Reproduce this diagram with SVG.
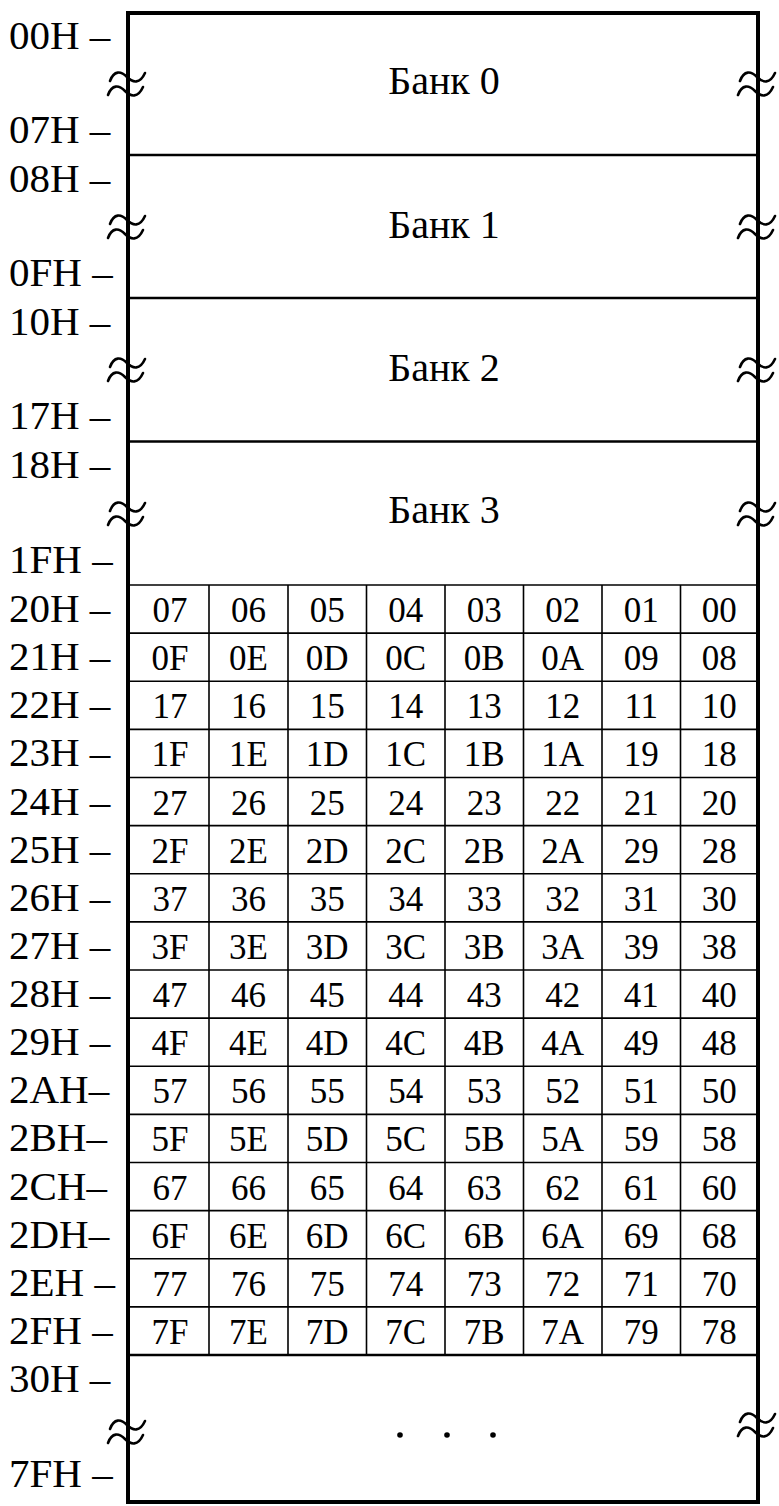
<svg xmlns="http://www.w3.org/2000/svg" width="779" height="1506" viewBox="0 0 779 1506">
  <style>
    text { font-family: "Liberation Serif", "Times New Roman", serif; fill: #000; }
    .lbl { font-size: 41px; }
    .bank { font-size: 40px; text-anchor: middle; }
    .cell { font-size: 35px; text-anchor: middle; }
    .frame { fill: none; stroke: #000; stroke-width: 4; }
    .div { stroke: #000; stroke-width: 2.6; }
    .grid { stroke: #000; stroke-width: 1.6; }
    .brk { fill: none; stroke: #000; stroke-width: 2.6; stroke-linecap: round; }
  </style>
  <defs>
    <!-- double wave break mark, centred on a vertical border -->
    <g id="brk">
      <path class="brk" d="M-18,-3 C-14,-14 -7,-13 -1,-7 C5,-1 12,0 17,-11"/>
      <path class="brk" d="M-20,11 C-16,0 -9,1 -3,7 C3,13 10,14 15,3"/>
    </g>
  </defs>
  <rect width="779" height="1506" fill="#fff"/>

  <!-- register banks -->
  <g id="bank0">
    <text class="lbl" x="9" y="49">00H –</text>
    <text class="lbl" x="9" y="143">07H –</text>
    <text class="bank" x="444" y="94">Банк 0</text>
  </g>
  <g id="bank1">
    <line class="div" x1="128" y1="155" x2="758" y2="155"/>
    <text class="lbl" x="9" y="192">08H –</text>
    <text class="lbl" x="9" y="286">0FH –</text>
    <text class="bank" x="444" y="238">Банк 1</text>
  </g>
  <g id="bank2">
    <line class="div" x1="128" y1="298" x2="758" y2="298"/>
    <text class="lbl" x="9" y="335">10H –</text>
    <text class="lbl" x="9" y="429">17H –</text>
    <text class="bank" x="444" y="381">Банк 2</text>
  </g>
  <g id="bank3">
    <line class="div" x1="128" y1="441.5" x2="758" y2="441.5"/>
    <text class="lbl" x="9" y="478">18H –</text>
    <text class="lbl" x="9" y="573">1FH –</text>
    <text class="bank" x="444" y="523">Банк 3</text>
  </g>

  <!-- bit-addressable area 20H..2FH -->
  <g id="bitgrid">
    <g id="grid-lines">
      <line class="grid" x1="128" y1="585" x2="758" y2="585"/>
      <line class="grid" x1="128" y1="633.1" x2="758" y2="633.1"/>
      <line class="grid" x1="128" y1="681.25" x2="758" y2="681.25"/>
      <line class="grid" x1="128" y1="729.4" x2="758" y2="729.4"/>
      <line class="grid" x1="128" y1="777.5" x2="758" y2="777.5"/>
      <line class="grid" x1="128" y1="825.6" x2="758" y2="825.6"/>
      <line class="grid" x1="128" y1="873.75" x2="758" y2="873.75"/>
      <line class="grid" x1="128" y1="921.9" x2="758" y2="921.9"/>
      <line class="grid" x1="128" y1="970" x2="758" y2="970"/>
      <line class="grid" x1="128" y1="1018.1" x2="758" y2="1018.1"/>
      <line class="grid" x1="128" y1="1066.25" x2="758" y2="1066.25"/>
      <line class="grid" x1="128" y1="1114.4" x2="758" y2="1114.4"/>
      <line class="grid" x1="128" y1="1162.5" x2="758" y2="1162.5"/>
      <line class="grid" x1="128" y1="1210.6" x2="758" y2="1210.6"/>
      <line class="grid" x1="128" y1="1258.75" x2="758" y2="1258.75"/>
      <line class="grid" x1="128" y1="1306.9" x2="758" y2="1306.9"/>
      <line class="grid" x1="209" y1="585" x2="209" y2="1355"/>
      <line class="grid" x1="288" y1="585" x2="288" y2="1355"/>
      <line class="grid" x1="366.5" y1="585" x2="366.5" y2="1355"/>
      <line class="grid" x1="445" y1="585" x2="445" y2="1355"/>
      <line class="grid" x1="523.5" y1="585" x2="523.5" y2="1355"/>
      <line class="grid" x1="602" y1="585" x2="602" y2="1355"/>
      <line class="grid" x1="680.5" y1="585" x2="680.5" y2="1355"/>
      <line class="div" x1="128" y1="1355" x2="758" y2="1355"/>
    </g>
    <g id="row20"><text class="lbl" x="9" y="622">20H –</text>
      <text class="cell" y="622"><tspan x="170">07</tspan><tspan x="248.5">06</tspan><tspan x="327.25">05</tspan><tspan x="405.75">04</tspan><tspan x="484.25">03</tspan><tspan x="562.75">02</tspan><tspan x="641.25">01</tspan><tspan x="719.25">00</tspan></text></g>
    <g id="row21"><text class="lbl" x="9" y="670">21H –</text>
      <text class="cell" y="670"><tspan x="170">0F</tspan><tspan x="248.5">0E</tspan><tspan x="327.25">0D</tspan><tspan x="405.75">0C</tspan><tspan x="484.25">0B</tspan><tspan x="562.75">0A</tspan><tspan x="641.25">09</tspan><tspan x="719.25">08</tspan></text></g>
    <g id="row22"><text class="lbl" x="9" y="718">22H –</text>
      <text class="cell" y="718"><tspan x="170">17</tspan><tspan x="248.5">16</tspan><tspan x="327.25">15</tspan><tspan x="405.75">14</tspan><tspan x="484.25">13</tspan><tspan x="562.75">12</tspan><tspan x="641.25">11</tspan><tspan x="719.25">10</tspan></text></g>
    <g id="row23"><text class="lbl" x="9" y="766">23H –</text>
      <text class="cell" y="766"><tspan x="170">1F</tspan><tspan x="248.5">1E</tspan><tspan x="327.25">1D</tspan><tspan x="405.75">1C</tspan><tspan x="484.25">1B</tspan><tspan x="562.75">1A</tspan><tspan x="641.25">19</tspan><tspan x="719.25">18</tspan></text></g>
    <g id="row24"><text class="lbl" x="9" y="814.5">24H –</text>
      <text class="cell" y="814.5"><tspan x="170">27</tspan><tspan x="248.5">26</tspan><tspan x="327.25">25</tspan><tspan x="405.75">24</tspan><tspan x="484.25">23</tspan><tspan x="562.75">22</tspan><tspan x="641.25">21</tspan><tspan x="719.25">20</tspan></text></g>
    <g id="row25"><text class="lbl" x="9" y="862.6">25H –</text>
      <text class="cell" y="862.6"><tspan x="170">2F</tspan><tspan x="248.5">2E</tspan><tspan x="327.25">2D</tspan><tspan x="405.75">2C</tspan><tspan x="484.25">2B</tspan><tspan x="562.75">2A</tspan><tspan x="641.25">29</tspan><tspan x="719.25">28</tspan></text></g>
    <g id="row26"><text class="lbl" x="9" y="910.75">26H –</text>
      <text class="cell" y="910.75"><tspan x="170">37</tspan><tspan x="248.5">36</tspan><tspan x="327.25">35</tspan><tspan x="405.75">34</tspan><tspan x="484.25">33</tspan><tspan x="562.75">32</tspan><tspan x="641.25">31</tspan><tspan x="719.25">30</tspan></text></g>
    <g id="row27"><text class="lbl" x="9" y="958.9">27H –</text>
      <text class="cell" y="958.9"><tspan x="170">3F</tspan><tspan x="248.5">3E</tspan><tspan x="327.25">3D</tspan><tspan x="405.75">3C</tspan><tspan x="484.25">3B</tspan><tspan x="562.75">3A</tspan><tspan x="641.25">39</tspan><tspan x="719.25">38</tspan></text></g>
    <g id="row28"><text class="lbl" x="9" y="1007">28H –</text>
      <text class="cell" y="1007"><tspan x="170">47</tspan><tspan x="248.5">46</tspan><tspan x="327.25">45</tspan><tspan x="405.75">44</tspan><tspan x="484.25">43</tspan><tspan x="562.75">42</tspan><tspan x="641.25">41</tspan><tspan x="719.25">40</tspan></text></g>
    <g id="row29"><text class="lbl" x="9" y="1055.1">29H –</text>
      <text class="cell" y="1055.1"><tspan x="170">4F</tspan><tspan x="248.5">4E</tspan><tspan x="327.25">4D</tspan><tspan x="405.75">4C</tspan><tspan x="484.25">4B</tspan><tspan x="562.75">4A</tspan><tspan x="641.25">49</tspan><tspan x="719.25">48</tspan></text></g>
    <g id="row2A"><text class="lbl" x="9" y="1103.25">2AH–</text>
      <text class="cell" y="1103.25"><tspan x="170">57</tspan><tspan x="248.5">56</tspan><tspan x="327.25">55</tspan><tspan x="405.75">54</tspan><tspan x="484.25">53</tspan><tspan x="562.75">52</tspan><tspan x="641.25">51</tspan><tspan x="719.25">50</tspan></text></g>
    <g id="row2B"><text class="lbl" x="9" y="1151.4">2BH–</text>
      <text class="cell" y="1151.4"><tspan x="170">5F</tspan><tspan x="248.5">5E</tspan><tspan x="327.25">5D</tspan><tspan x="405.75">5C</tspan><tspan x="484.25">5B</tspan><tspan x="562.75">5A</tspan><tspan x="641.25">59</tspan><tspan x="719.25">58</tspan></text></g>
    <g id="row2C"><text class="lbl" x="9" y="1199.5">2CH–</text>
      <text class="cell" y="1199.5"><tspan x="170">67</tspan><tspan x="248.5">66</tspan><tspan x="327.25">65</tspan><tspan x="405.75">64</tspan><tspan x="484.25">63</tspan><tspan x="562.75">62</tspan><tspan x="641.25">61</tspan><tspan x="719.25">60</tspan></text></g>
    <g id="row2D"><text class="lbl" x="9" y="1247.6">2DH–</text>
      <text class="cell" y="1247.6"><tspan x="170">6F</tspan><tspan x="248.5">6E</tspan><tspan x="327.25">6D</tspan><tspan x="405.75">6C</tspan><tspan x="484.25">6B</tspan><tspan x="562.75">6A</tspan><tspan x="641.25">69</tspan><tspan x="719.25">68</tspan></text></g>
    <g id="row2E"><text class="lbl" x="9" y="1295.75">2EH –</text>
      <text class="cell" y="1295.75"><tspan x="170">77</tspan><tspan x="248.5">76</tspan><tspan x="327.25">75</tspan><tspan x="405.75">74</tspan><tspan x="484.25">73</tspan><tspan x="562.75">72</tspan><tspan x="641.25">71</tspan><tspan x="719.25">70</tspan></text></g>
    <g id="row2F"><text class="lbl" x="9" y="1343.9">2FH –</text>
      <text class="cell" y="1343.9"><tspan x="170">7F</tspan><tspan x="248.5">7E</tspan><tspan x="327.25">7D</tspan><tspan x="405.75">7C</tspan><tspan x="484.25">7B</tspan><tspan x="562.75">7A</tspan><tspan x="641.25">79</tspan><tspan x="719.25">78</tspan></text></g>
  </g>

  <!-- general-purpose RAM 30H..7FH -->
  <g id="ram">
    <text class="lbl" x="9" y="1392">30H –</text>
    <text class="lbl" x="9" y="1487">7FH –</text>
    <circle cx="400" cy="1435" r="2.8"/>
    <circle cx="447" cy="1435" r="2.8"/>
    <circle cx="493" cy="1435" r="2.8"/>
  </g>

  <!-- outer frame -->
  <rect id="frame" class="frame" x="128" y="13" width="630" height="1489"/>

  <!-- break marks on both sides -->
  <g id="breaks">
    <use href="#brk" x="128" y="84"/>
    <use href="#brk" x="758" y="84"/>
    <use href="#brk" x="128" y="227"/>
    <use href="#brk" x="758" y="227"/>
    <use href="#brk" x="128" y="370"/>
    <use href="#brk" x="758" y="370"/>
    <use href="#brk" x="128" y="514"/>
    <use href="#brk" x="758" y="514"/>
    <use href="#brk" x="128" y="1432"/>
    <use href="#brk" x="758" y="1425"/>
  </g>
</svg>
